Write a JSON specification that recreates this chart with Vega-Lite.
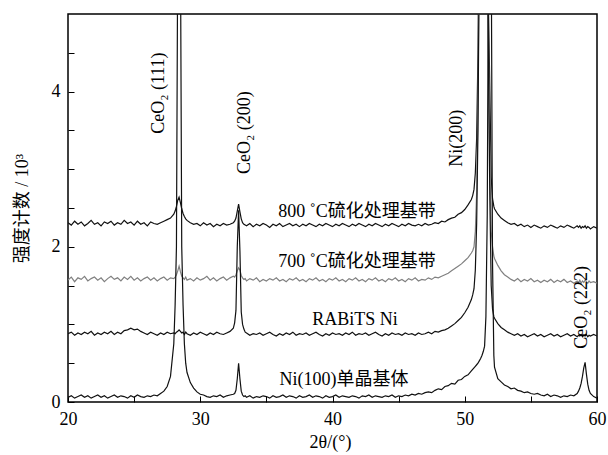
{
  "$schema": "https://vega.github.io/schema/vega-lite/v6.json",
  "width": 529,
  "height": 388,
  "autosize": {"type": "none"},
  "padding": {"left": 68, "top": 14, "right": 11, "bottom": 53},
  "background": "white",
  "config": {
    "view": {"stroke": "black", "strokeWidth": 1.5},
    "font": "Liberation Serif"
  },
  "datasets": {
    "xrd": [
      {"x":20,"s800":2.31,"s700":1.57,"rabits":0.88,"ni100":0.06},
      {"x":20.25,"s800":2.28,"s700":1.61,"rabits":0.90,"ni100":0.08},
      {"x":20.5,"s800":2.33,"s700":1.55,"rabits":0.86,"ni100":0.05},
      {"x":20.75,"s800":2.29,"s700":1.60,"rabits":0.89,"ni100":0.07},
      {"x":21,"s800":2.32,"s700":1.58,"rabits":0.87,"ni100":0.09},
      {"x":21.25,"s800":2.27,"s700":1.62,"rabits":0.90,"ni100":0.06},
      {"x":21.5,"s800":2.30,"s700":1.56,"rabits":0.88,"ni100":0.08},
      {"x":21.75,"s800":2.34,"s700":1.59,"rabits":0.91,"ni100":0.05},
      {"x":22,"s800":2.29,"s700":1.61,"rabits":0.86,"ni100":0.07},
      {"x":22.25,"s800":2.31,"s700":1.57,"rabits":0.89,"ni100":0.09},
      {"x":22.5,"s800":2.27,"s700":1.60,"rabits":0.87,"ni100":0.06},
      {"x":22.75,"s800":2.32,"s700":1.55,"rabits":0.90,"ni100":0.08},
      {"x":23,"s800":2.30,"s700":1.59,"rabits":0.88,"ni100":0.05},
      {"x":23.25,"s800":2.33,"s700":1.62,"rabits":0.91,"ni100":0.07},
      {"x":23.5,"s800":2.28,"s700":1.58,"rabits":0.87,"ni100":0.09},
      {"x":23.75,"s800":2.31,"s700":1.60,"rabits":0.90,"ni100":0.06},
      {"x":24,"s800":2.29,"s700":1.56,"rabits":0.88,"ni100":0.08},
      {"x":24.25,"s800":2.34,"s700":1.61,"rabits":0.92,"ni100":0.07},
      {"x":24.5,"s800":2.30,"s700":1.58,"rabits":0.93,"ni100":0.05},
      {"x":24.75,"s800":2.32,"s700":1.62,"rabits":0.95,"ni100":0.08},
      {"x":25,"s800":2.28,"s700":1.57,"rabits":0.93,"ni100":0.06},
      {"x":25.25,"s800":2.33,"s700":1.60,"rabits":0.94,"ni100":0.09},
      {"x":25.5,"s800":2.29,"s700":1.56,"rabits":0.91,"ni100":0.07},
      {"x":25.75,"s800":2.31,"s700":1.59,"rabits":0.89,"ni100":0.06},
      {"x":26,"s800":2.27,"s700":1.61,"rabits":0.87,"ni100":0.08},
      {"x":26.25,"s800":2.32,"s700":1.57,"rabits":0.90,"ni100":0.07},
      {"x":26.5,"s800":2.30,"s700":1.60,"rabits":0.88,"ni100":0.09},
      {"x":26.75,"s800":2.29,"s700":1.56,"rabits":0.86,"ni100":0.08},
      {"x":27,"s800":2.31,"s700":1.59,"rabits":0.89,"ni100":0.11},
      {"x":27.25,"s800":2.33,"s700":1.61,"rabits":0.87,"ni100":0.14},
      {"x":27.5,"s800":2.35,"s700":1.57,"rabits":0.90,"ni100":0.20},
      {"x":27.75,"s800":2.37,"s700":1.60,"rabits":0.88,"ni100":0.33},
      {"x":28.0,"s800":2.42,"s700":1.59,"rabits":0.89,"ni100":0.75},
      {"x":28.1,"s800":2.46,"s700":1.61,"rabits":0.88,"ni100":1.25},
      {"x":28.2,"s800":2.52,"s700":1.64,"rabits":0.90,"ni100":2.0},
      {"x":28.3,"s800":2.60,"s700":1.69,"rabits":0.91,"ni100":6.0},
      {"x":28.4,"s800":2.64,"s700":1.75,"rabits":0.93,"ni100":9.0},
      {"x":28.5,"s800":2.57,"s700":1.68,"rabits":0.91,"ni100":6.0},
      {"x":28.6,"s800":2.49,"s700":1.62,"rabits":0.89,"ni100":2.0},
      {"x":28.7,"s800":2.43,"s700":1.60,"rabits":0.90,"ni100":1.25},
      {"x":28.8,"s800":2.39,"s700":1.58,"rabits":0.87,"ni100":0.75},
      {"x":28.9,"s800":2.36,"s700":1.61,"rabits":0.90,"ni100":0.50},
      {"x":29.0,"s800":2.34,"s700":1.57,"rabits":0.88,"ni100":0.38},
      {"x":29.25,"s800":2.31,"s700":1.59,"rabits":0.86,"ni100":0.25},
      {"x":29.5,"s800":2.29,"s700":1.56,"rabits":0.89,"ni100":0.18},
      {"x":29.75,"s800":2.30,"s700":1.60,"rabits":0.87,"ni100":0.13},
      {"x":30,"s800":2.27,"s700":1.57,"rabits":0.90,"ni100":0.10},
      {"x":30.25,"s800":2.31,"s700":1.59,"rabits":0.88,"ni100":0.09},
      {"x":30.5,"s800":2.28,"s700":1.62,"rabits":0.86,"ni100":0.07},
      {"x":30.75,"s800":2.30,"s700":1.57,"rabits":0.89,"ni100":0.06},
      {"x":31,"s800":2.26,"s700":1.60,"rabits":0.87,"ni100":0.08},
      {"x":31.25,"s800":2.29,"s700":1.56,"rabits":0.90,"ni100":0.07},
      {"x":31.5,"s800":2.27,"s700":1.59,"rabits":0.88,"ni100":0.09},
      {"x":31.75,"s800":2.30,"s700":1.61,"rabits":0.87,"ni100":0.06},
      {"x":32,"s800":2.28,"s700":1.57,"rabits":0.89,"ni100":0.08},
      {"x":32.25,"s800":2.29,"s700":1.60,"rabits":0.91,"ni100":0.09},
      {"x":32.5,"s800":2.31,"s700":1.62,"rabits":0.95,"ni100":0.10},
      {"x":32.6,"s800":2.33,"s700":1.61,"rabits":1.02,"ni100":0.11},
      {"x":32.7,"s800":2.37,"s700":1.64,"rabits":1.18,"ni100":0.15},
      {"x":32.8,"s800":2.46,"s700":1.69,"rabits":2.0,"ni100":0.30},
      {"x":32.9,"s800":2.55,"s700":1.73,"rabits":2.47,"ni100":0.50},
      {"x":33.0,"s800":2.45,"s700":1.70,"rabits":1.95,"ni100":0.30},
      {"x":33.1,"s800":2.36,"s700":1.63,"rabits":1.16,"ni100":0.14},
      {"x":33.2,"s800":2.31,"s700":1.60,"rabits":1.00,"ni100":0.09},
      {"x":33.3,"s800":2.29,"s700":1.58,"rabits":0.94,"ni100":0.07},
      {"x":33.4,"s800":2.28,"s700":1.59,"rabits":0.90,"ni100":0.08},
      {"x":33.5,"s800":2.27,"s700":1.56,"rabits":0.89,"ni100":0.06},
      {"x":33.75,"s800":2.30,"s700":1.59,"rabits":0.86,"ni100":0.08},
      {"x":34,"s800":2.26,"s700":1.57,"rabits":0.88,"ni100":0.05},
      {"x":34.25,"s800":2.29,"s700":1.60,"rabits":0.87,"ni100":0.07},
      {"x":34.5,"s800":2.27,"s700":1.55,"rabits":0.89,"ni100":0.06},
      {"x":34.75,"s800":2.30,"s700":1.58,"rabits":0.86,"ni100":0.08},
      {"x":35,"s800":2.28,"s700":1.56,"rabits":0.88,"ni100":0.07},
      {"x":35.25,"s800":2.25,"s700":1.59,"rabits":0.90,"ni100":0.05},
      {"x":35.5,"s800":2.29,"s700":1.57,"rabits":0.87,"ni100":0.08},
      {"x":35.75,"s800":2.27,"s700":1.60,"rabits":0.85,"ni100":0.06},
      {"x":36,"s800":2.30,"s700":1.56,"rabits":0.88,"ni100":0.07},
      {"x":36.25,"s800":2.26,"s700":1.58,"rabits":0.86,"ni100":0.09},
      {"x":36.5,"s800":2.28,"s700":1.55,"rabits":0.89,"ni100":0.06},
      {"x":36.75,"s800":2.30,"s700":1.59,"rabits":0.87,"ni100":0.08},
      {"x":37,"s800":2.27,"s700":1.57,"rabits":0.90,"ni100":0.07},
      {"x":37.25,"s800":2.29,"s700":1.60,"rabits":0.86,"ni100":0.05},
      {"x":37.5,"s800":2.26,"s700":1.56,"rabits":0.88,"ni100":0.08},
      {"x":37.75,"s800":2.29,"s700":1.58,"rabits":0.87,"ni100":0.06},
      {"x":38,"s800":2.27,"s700":1.55,"rabits":0.89,"ni100":0.07},
      {"x":38.25,"s800":2.30,"s700":1.59,"rabits":0.86,"ni100":0.09},
      {"x":38.5,"s800":2.28,"s700":1.57,"rabits":0.88,"ni100":0.06},
      {"x":38.75,"s800":2.26,"s700":1.60,"rabits":0.90,"ni100":0.08},
      {"x":39,"s800":2.29,"s700":1.56,"rabits":0.87,"ni100":0.07},
      {"x":39.25,"s800":2.27,"s700":1.58,"rabits":0.85,"ni100":0.05},
      {"x":39.5,"s800":2.30,"s700":1.55,"rabits":0.88,"ni100":0.08},
      {"x":39.75,"s800":2.28,"s700":1.59,"rabits":0.86,"ni100":0.06},
      {"x":40,"s800":2.26,"s700":1.57,"rabits":0.89,"ni100":0.07},
      {"x":40.25,"s800":2.29,"s700":1.60,"rabits":0.87,"ni100":0.09},
      {"x":40.5,"s800":2.27,"s700":1.56,"rabits":0.88,"ni100":0.06},
      {"x":40.75,"s800":2.30,"s700":1.58,"rabits":0.86,"ni100":0.08},
      {"x":41,"s800":2.28,"s700":1.55,"rabits":0.89,"ni100":0.07},
      {"x":41.25,"s800":2.26,"s700":1.59,"rabits":0.87,"ni100":0.06},
      {"x":41.5,"s800":2.29,"s700":1.57,"rabits":0.90,"ni100":0.08},
      {"x":41.75,"s800":2.27,"s700":1.60,"rabits":0.86,"ni100":0.07},
      {"x":42,"s800":2.30,"s700":1.56,"rabits":0.88,"ni100":0.05},
      {"x":42.25,"s800":2.28,"s700":1.58,"rabits":0.87,"ni100":0.08},
      {"x":42.5,"s800":2.26,"s700":1.55,"rabits":0.89,"ni100":0.07},
      {"x":42.75,"s800":2.29,"s700":1.59,"rabits":0.86,"ni100":0.09},
      {"x":43,"s800":2.27,"s700":1.57,"rabits":0.88,"ni100":0.06},
      {"x":43.25,"s800":2.30,"s700":1.60,"rabits":0.90,"ni100":0.08},
      {"x":43.5,"s800":2.28,"s700":1.56,"rabits":0.87,"ni100":0.07},
      {"x":43.75,"s800":2.26,"s700":1.58,"rabits":0.85,"ni100":0.06},
      {"x":44,"s800":2.29,"s700":1.55,"rabits":0.88,"ni100":0.08},
      {"x":44.25,"s800":2.27,"s700":1.59,"rabits":0.86,"ni100":0.07},
      {"x":44.5,"s800":2.30,"s700":1.57,"rabits":0.89,"ni100":0.09},
      {"x":44.75,"s800":2.28,"s700":1.60,"rabits":0.87,"ni100":0.06},
      {"x":45,"s800":2.26,"s700":1.56,"rabits":0.88,"ni100":0.08},
      {"x":45.25,"s800":2.29,"s700":1.58,"rabits":0.86,"ni100":0.07},
      {"x":45.5,"s800":2.27,"s700":1.55,"rabits":0.89,"ni100":0.09},
      {"x":45.75,"s800":2.30,"s700":1.59,"rabits":0.87,"ni100":0.08},
      {"x":46,"s800":2.28,"s700":1.57,"rabits":0.88,"ni100":0.10},
      {"x":46.25,"s800":2.27,"s700":1.60,"rabits":0.86,"ni100":0.09},
      {"x":46.5,"s800":2.29,"s700":1.56,"rabits":0.89,"ni100":0.11},
      {"x":46.75,"s800":2.27,"s700":1.58,"rabits":0.87,"ni100":0.10},
      {"x":47,"s800":2.30,"s700":1.57,"rabits":0.88,"ni100":0.12},
      {"x":47.25,"s800":2.28,"s700":1.60,"rabits":0.90,"ni100":0.13},
      {"x":47.5,"s800":2.29,"s700":1.58,"rabits":0.88,"ni100":0.12},
      {"x":47.75,"s800":2.31,"s700":1.61,"rabits":0.91,"ni100":0.15},
      {"x":48,"s800":2.30,"s700":1.60,"rabits":0.90,"ni100":0.17},
      {"x":48.25,"s800":2.33,"s700":1.62,"rabits":0.92,"ni100":0.16},
      {"x":48.5,"s800":2.32,"s700":1.64,"rabits":0.93,"ni100":0.20},
      {"x":48.75,"s800":2.35,"s700":1.66,"rabits":0.95,"ni100":0.21},
      {"x":49,"s800":2.37,"s700":1.69,"rabits":0.98,"ni100":0.24},
      {"x":49.25,"s800":2.38,"s700":1.72,"rabits":1.01,"ni100":0.23},
      {"x":49.5,"s800":2.42,"s700":1.75,"rabits":1.05,"ni100":0.28},
      {"x":49.75,"s800":2.44,"s700":1.78,"rabits":1.09,"ni100":0.29},
      {"x":50,"s800":2.48,"s700":1.82,"rabits":1.15,"ni100":0.33},
      {"x":50.25,"s800":2.54,"s700":1.86,"rabits":1.22,"ni100":0.35},
      {"x":50.5,"s800":2.61,"s700":1.92,"rabits":1.32,"ni100":0.40},
      {"x":50.6,"s800":2.66,"s700":1.95,"rabits":1.38,"ni100":0.42},
      {"x":50.7,"s800":2.74,"s700":2.0,"rabits":1.46,"ni100":0.44},
      {"x":50.8,"s800":2.95,"s700":2.2,"rabits":1.7,"ni100":0.46},
      {"x":50.9,"s800":3.4,"s700":2.7,"rabits":2.3,"ni100":0.48},
      {"x":51.0,"s800":4.5,"s700":3.8,"rabits":3.5,"ni100":0.50},
      {"x":51.1,"s800":6.5,"s700":6.0,"rabits":5.8,"ni100":0.53},
      {"x":51.2,"s800":9,"s700":9,"rabits":9,"ni100":0.56},
      {"x":51.3,"s800":12,"s700":12,"rabits":12,"ni100":0.6},
      {"x":51.4,"s800":12,"s700":12,"rabits":12,"ni100":0.65},
      {"x":51.5,"s800":12,"s700":12,"rabits":12,"ni100":0.72},
      {"x":51.6,"s800":10,"s700":9.5,"rabits":9.5,"ni100":1.1},
      {"x":51.7,"s800":7,"s700":6.5,"rabits":6.5,"ni100":2.4},
      {"x":51.8,"s800":5,"s700":4.5,"rabits":4.2,"ni100":6.0},
      {"x":51.9,"s800":4.0,"s700":3.0,"rabits":2.6,"ni100":12},
      {"x":52.0,"s800":2.9,"s700":2.2,"rabits":1.5,"ni100":6.0},
      {"x":52.1,"s800":2.62,"s700":2.0,"rabits":1.2,"ni100":1.8},
      {"x":52.2,"s800":2.52,"s700":1.88,"rabits":1.1,"ni100":0.6},
      {"x":52.25,"s800":2.49,"s700":1.85,"rabits":1.08,"ni100":0.45},
      {"x":52.5,"s800":2.42,"s700":1.76,"rabits":1.01,"ni100":0.30},
      {"x":52.75,"s800":2.37,"s700":1.69,"rabits":0.96,"ni100":0.26},
      {"x":53,"s800":2.34,"s700":1.64,"rabits":0.93,"ni100":0.22},
      {"x":53.25,"s800":2.31,"s700":1.61,"rabits":0.90,"ni100":0.20},
      {"x":53.5,"s800":2.29,"s700":1.58,"rabits":0.88,"ni100":0.17},
      {"x":53.75,"s800":2.30,"s700":1.56,"rabits":0.86,"ni100":0.18},
      {"x":54,"s800":2.27,"s700":1.59,"rabits":0.88,"ni100":0.15},
      {"x":54.25,"s800":2.29,"s700":1.55,"rabits":0.85,"ni100":0.14},
      {"x":54.5,"s800":2.26,"s700":1.58,"rabits":0.87,"ni100":0.12},
      {"x":54.75,"s800":2.28,"s700":1.56,"rabits":0.84,"ni100":0.13},
      {"x":55,"s800":2.25,"s700":1.59,"rabits":0.86,"ni100":0.11},
      {"x":55.25,"s800":2.28,"s700":1.55,"rabits":0.88,"ni100":0.10},
      {"x":55.5,"s800":2.26,"s700":1.57,"rabits":0.85,"ni100":0.11},
      {"x":55.75,"s800":2.24,"s700":1.54,"rabits":0.87,"ni100":0.09},
      {"x":56,"s800":2.27,"s700":1.57,"rabits":0.84,"ni100":0.08},
      {"x":56.25,"s800":2.25,"s700":1.55,"rabits":0.86,"ni100":0.10},
      {"x":56.5,"s800":2.28,"s700":1.58,"rabits":0.88,"ni100":0.07},
      {"x":56.75,"s800":2.26,"s700":1.54,"rabits":0.85,"ni100":0.09},
      {"x":57,"s800":2.24,"s700":1.57,"rabits":0.87,"ni100":0.08},
      {"x":57.25,"s800":2.27,"s700":1.55,"rabits":0.84,"ni100":0.06},
      {"x":57.5,"s800":2.25,"s700":1.58,"rabits":0.86,"ni100":0.08},
      {"x":57.75,"s800":2.28,"s700":1.54,"rabits":0.88,"ni100":0.07},
      {"x":58,"s800":2.26,"s700":1.56,"rabits":0.85,"ni100":0.09},
      {"x":58.25,"s800":2.24,"s700":1.53,"rabits":0.87,"ni100":0.08},
      {"x":58.5,"s800":2.27,"s700":1.56,"rabits":0.84,"ni100":0.11},
      {"x":58.6,"s800":2.25,"s700":1.54,"rabits":0.86,"ni100":0.14},
      {"x":58.7,"s800":2.27,"s700":1.57,"rabits":0.85,"ni100":0.18},
      {"x":58.8,"s800":2.24,"s700":1.53,"rabits":0.87,"ni100":0.24},
      {"x":58.9,"s800":2.26,"s700":1.56,"rabits":0.84,"ni100":0.33},
      {"x":59.0,"s800":2.25,"s700":1.54,"rabits":0.86,"ni100":0.44},
      {"x":59.1,"s800":2.27,"s700":1.57,"rabits":0.85,"ni100":0.51},
      {"x":59.2,"s800":2.24,"s700":1.55,"rabits":0.87,"ni100":0.36},
      {"x":59.3,"s800":2.26,"s700":1.53,"rabits":0.84,"ni100":0.23},
      {"x":59.4,"s800":2.25,"s700":1.56,"rabits":0.86,"ni100":0.15},
      {"x":59.5,"s800":2.23,"s700":1.54,"rabits":0.85,"ni100":0.11},
      {"x":59.75,"s800":2.26,"s700":1.55,"rabits":0.87,"ni100":0.07},
      {"x":60,"s800":2.24,"s700":1.53,"rabits":0.85,"ni100":0.05}
    ],
    "peaks": [
      {"x":26.88,"y":3.98,"t":"CeO₂ (111)"},
      {"x":33.38,"y":3.47,"t":"CeO₂ (200)"},
      {"x":49.41,"y":3.40,"t":"Ni(200)"},
      {"x":58.87,"y":1.22,"t":"CeO₂ (222)"}
    ],
    "curves": [
      {"x":41.85,"y":2.45,"t":"800 ˚C硫化处理基带"},
      {"x":41.85,"y":1.81,"t":"700 ˚C硫化处理基带"},
      {"x":41.70,"y":1.06,"t":"RABiTS Ni"},
      {"x":40.87,"y":0.28,"t":"Ni(100)单晶基体"}
    ]
  },
  "layer": [
    {
      "data": {"name": "xrd"},
      "transform": [{"fold": ["s800", "s700", "rabits", "ni100"], "as": ["series", "value"]}],
      "mark": {"type": "line", "clip": true, "strokeWidth": 1.2},
      "encoding": {
        "x": {
          "field": "x", "type": "quantitative",
          "scale": {"domain": [20, 60], "nice": false, "zero": false},
          "axis": {
            "values": [20, 22.5, 25, 27.5, 30, 32.5, 35, 37.5, 40, 42.5, 45, 47.5, 50, 52.5, 55, 57.5, 60],
            "labelExpr": "datum.value % 10 === 0 ? format(datum.value, 'd') : ''",
            "labelOverlap": false, "labelBound": false, "labelFlush": false,
            "domain": false, "grid": false,
            "tickSize": -6, "tickColor": "black", "tickWidth": 1,
            "labelPadding": 14, "labelFontSize": 18, "labelColor": "black", "labelFont": "Liberation Serif",
            "title": "2θ/(°)", "titleFontSize": 18, "titleFontWeight": "normal", "titleColor": "black",
            "titleFont": "Liberation Serif", "titleX": 262, "titleY": 40, "titleBaseline": "middle", "titleAlign": "center"
          }
        },
        "y": {
          "field": "value", "type": "quantitative",
          "scale": {"domain": [0, 5], "nice": false},
          "axis": {
            "values": [0, 0.5, 1, 1.5, 2, 2.5, 3, 3.5, 4, 4.5],
            "labelExpr": "datum.value % 2 === 0 ? format(datum.value, 'd') : ''",
            "labelOverlap": false, "labelBound": false, "labelFlush": false,
            "domain": false, "grid": false,
            "tickSize": -6, "tickColor": "black", "tickWidth": 1,
            "labelPadding": 14, "labelFontSize": 18, "labelColor": "black", "labelFont": "Liberation Serif",
            "title": "强度计数 / 10³", "titleFontSize": 18, "titleFontWeight": "normal", "titleColor": "black",
            "titleFont": "Liberation Serif, Noto Sans CJK SC", "titleAngle": 270, "titleX": -46, "titleY": 194,
            "titleBaseline": "middle", "titleAlign": "center"
          }
        },
        "color": {
          "field": "series", "type": "nominal",
          "scale": {"domain": ["s800", "s700", "rabits", "ni100"], "range": ["#111111", "#808080", "#111111", "#111111"]},
          "legend": null
        }
      }
    },
    {
      "data": {"name": "peaks"},
      "mark": {"type": "text", "angle": 270, "align": "center", "baseline": "middle", "fontSize": 18, "font": "Liberation Serif", "color": "black"},
      "encoding": {
        "x": {"field": "x", "type": "quantitative"},
        "y": {"field": "y", "type": "quantitative"},
        "text": {"field": "t"}
      }
    },
    {
      "data": {"name": "curves"},
      "mark": {"type": "text", "align": "center", "baseline": "middle", "fontSize": 18, "font": "Liberation Serif, Noto Sans CJK SC", "color": "black"},
      "encoding": {
        "x": {"field": "x", "type": "quantitative"},
        "y": {"field": "y", "type": "quantitative"},
        "text": {"field": "t"}
      }
    }
  ]
}
